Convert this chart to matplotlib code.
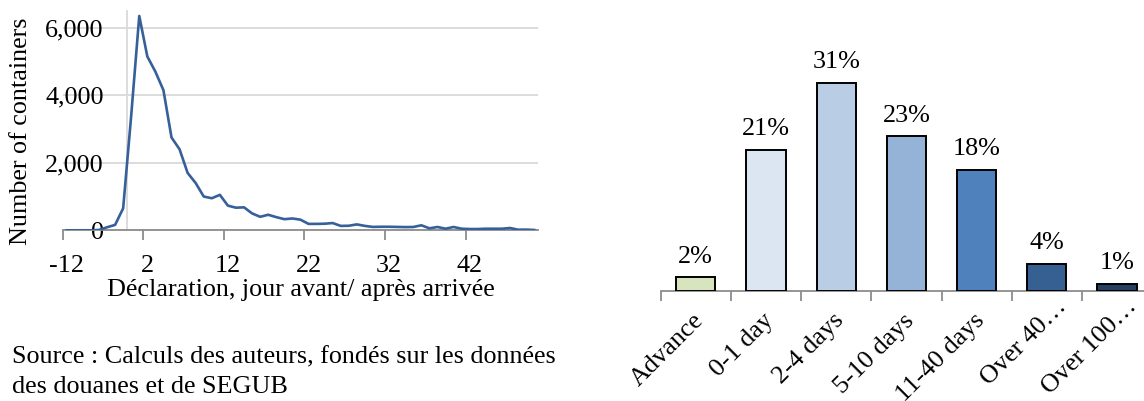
import matplotlib
matplotlib.use("Agg")
import matplotlib.pyplot as plt
import matplotlib.transforms as mtransforms
import numpy as np
from matplotlib.ticker import FuncFormatter, FixedLocator

plt.rcParams['font.family'] = ['Liberation Serif', 'DejaVu Serif']

# Containers declared per day relative to arrival (one entry per category)
counts = [0, 0, 0, 0, 10, 90, 160, 650, 3400, 6350,
          5150, 4700, 4150, 2750, 2400, 1700, 1400, 1000, 950, 1050,
          730, 670, 680, 500, 400, 460, 390, 330, 350, 315,
          190, 190, 195, 215, 130, 135, 175, 130, 100, 105,
          105, 100, 95, 98, 148, 59, 98, 47, 98, 47,
          38, 38, 47, 47, 47, 68, 18, 20, 10]
day_labels = ["-12", "2", "12", "22", "32", "42"]
y_ticks = [0, 2000, 4000, 6000]

# Share of declarations by delay class
delay_classes = ["Advance", "0-1 day", "2-4 days", "5-10 days", "11-40 days",
                 "Over 40…", "Over 100…"]
shares = [2, 21, 31, 23, 18, 4, 1]
bar_colors = ["#D7E4BD", "#DCE6F2", "#B9CDE5", "#95B3D7", "#4F81BD",
              "#376092", "#254061"]

W, H = 1144, 401
fig = plt.figure(figsize=(W / 100, H / 100), dpi=100)

FS = 18.8
GRID = "#D9D9D9"
AXIS = "#8C8C8C"

# ---------------- left panel: daily line ----------------
ax = fig.add_axes([62.7 / W, (H - 230.3) / H, 475.5 / W, 219.4 / H])
x = np.arange(len(counts))
ax.plot(x, counts, color="#36609A", lw=1.9, solid_joinstyle="round", zorder=3)
ax.set_xlim(-0.5, len(counts) - 0.5)
ax.set_ylim(0, 6500)

for s in ["top", "right"]:
    ax.spines[s].set_visible(False)
ax.spines["bottom"].set_color(AXIS)
ax.spines["bottom"].set_linewidth(1.3)
ax.spines["left"].set_position(("data", 7.5))
ax.spines["left"].set_color(GRID)
ax.spines["left"].set_linewidth(1.3)
ax.spines["left"].set_zorder(1)

ax.yaxis.set_major_locator(FixedLocator(y_ticks))
ax.yaxis.set_major_formatter(FuncFormatter(lambda v, p: f"{int(v):,}"))
ax.tick_params(axis="y", length=0, pad=17, labelsize=FS)
ax.grid(axis="y", color=GRID, lw=1.3, zorder=0)
ax.set_axisbelow(True)

label_pos = np.arange(len(day_labels)) * 10
ax.xaxis.set_major_locator(FixedLocator(label_pos - 0.5))
ax.xaxis.set_major_formatter(FuncFormatter(lambda v, p: ""))
ax.xaxis.set_minor_locator(FixedLocator(label_pos))
ax.set_xticklabels(day_labels, minor=True)
ax.tick_params(axis="x", which="major", length=7, width=1.3, color=AXIS, direction="out")
ax.tick_params(axis="x", which="minor", length=0, pad=18, labelsize=FS)

ax.set_xlabel("Déclaration, jour avant/ après arrivée", fontsize=FS)
ax.xaxis.label.set_va("center")
ax.xaxis.set_label_coords(0.5, -(290 - 230.3) / 219.4)
fig.text(20.7 / W, 1 - 131 / H, "Number of containers", rotation=90,
         ha="center", va="center", fontsize=FS)

fig.text(11.7 / W, 1 - 357 / H, "Source : Calculs des auteurs, fondés sur les données",
         ha="left", va="center", fontsize=FS)
fig.text(11.7 / W, 1 - 387 / H, "des douanes et de SEGUB",
         ha="left", va="center", fontsize=FS)

# ---------------- right panel: bars by delay class ----------------
bx = fig.add_axes([660.7 / W, (H - 290.7) / H, 491.4 / W, 35 * 6.71 / H])
pos = np.arange(len(shares))
bars = bx.bar(pos, shares, width=0.56, color=bar_colors, edgecolor="black",
              linewidth=1.4, zorder=3)
bx.set_xlim(-0.5, len(shares) - 0.5)
bx.set_ylim(0, 35)
for s in ["top", "right", "left"]:
    bx.spines[s].set_visible(False)
bx.spines["bottom"].set_color(AXIS)
bx.spines["bottom"].set_linewidth(1.3)
bx.set_yticks([])

for b, v in zip(bars, shares):
    bx.annotate(f"{v}%", (b.get_x() + b.get_width() / 2, v),
                xytext=(0, 7), textcoords="offset points",
                ha="center", va="bottom", fontsize=FS)

bx.xaxis.set_major_locator(FixedLocator(pos - 0.5))
bx.xaxis.set_major_formatter(FuncFormatter(lambda v, p: ""))
bx.xaxis.set_minor_locator(FixedLocator(pos - 0.05))
tick_texts = bx.set_xticklabels(delay_classes, minor=True, rotation=45, ha="right",
                                va="top", rotation_mode="anchor")
bx.tick_params(axis="x", which="major", length=7, width=1.3, color=AXIS, direction="out")
bx.tick_params(axis="x", which="minor", length=0, pad=13.5, labelsize=FS)

# truncated labels sit a little higher along the axis
shift = mtransforms.ScaledTranslation(12 / 100, 14 / 100, fig.dpi_scale_trans)
for t in tick_texts:
    if t.get_text().endswith("…"):
        t.set_transform(t.get_transform() + shift)

fig.savefig("out.png", dpi=100)
